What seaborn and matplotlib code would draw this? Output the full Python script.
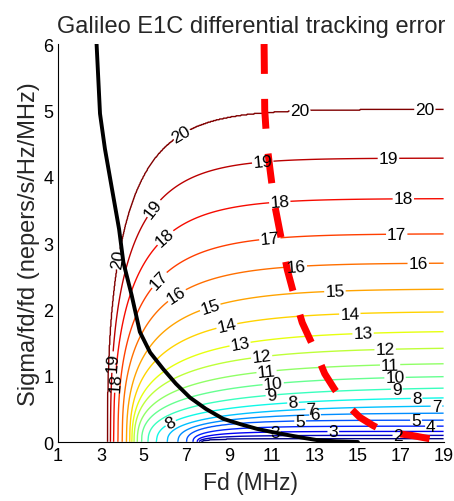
import numpy as np
import pandas as pd
import matplotlib
matplotlib.use("Agg")
import matplotlib.pyplot as plt
import seaborn as sns

# ---- data ----
levels = [1, 2, 3, 4, 5, 6, 7, 8, 9, 10, 11, 12, 13, 14, 15, 16, 17, 18, 19, 20]
# height each contour level levels off at (right side, Fd -> 19 MHz)
level_height = [0.05, 0.10, 0.16, 0.24, 0.33, 0.44, 0.56, 0.69, 0.84, 1.01,
                1.20, 1.43, 1.68, 1.97, 2.31, 2.70, 3.14, 3.67, 4.28, 5.02]
# Fd where each contour level meets the bottom of the plot
level_foot = [7.7, 7.6, 7.5, 7.3, 7.0, 6.6, 6.1, 5.6, 5.2, 4.9,
              4.7, 4.55, 4.45, 4.35, 4.2, 4.0, 3.8, 3.6, 3.45, 3.3]
# Fd range over which each level bends from vertical to flat
level_knee = [1.5, 1.6, 1.8, 2.0, 2.2, 3.5, 5.0, 5.5, 5.5, 5.0,
              4.5, 4.1, 3.9, 3.3, 3.0, 2.7, 2.5, 2.3, 2.1, 2.0]

# where the contour labels sit (per level)
label_spots = {
    20: [(6.7, 4.67), (12.3, 4.99), (18.13, 4.94), (3.66, 2.76)],
    19: [(5.3, 3.56), (10.58, 4.17), (16.42, 4.27), (3.66, 1.2)],
    18: [(5.92, 3.11), (11.36, 3.59), (17.12, 3.64), (3.9, 0.9)],
    17: [(5.68, 2.46), (10.9, 3.01), (16.81, 3.11)],
    16: [(6.53, 2.21), (12.14, 2.58), (17.82, 2.68)],
    15: [(8.1, 2.03), (13.93, 2.23)],
    14: [(8.87, 1.75), (14.63, 1.88)],
    13: [(9.5, 1.48), (15.25, 1.65)],
    12: [(10.51, 1.28), (16.27, 1.40)],
    11: [(10.74, 1.05), (16.5, 1.18)],
    10: [(11.05, 0.87), (16.73, 1.0)],
    9: [(10.97, 0.67), (16.8, 0.80)],
    8: [(6.4, 0.2), (11.98, 0.55), (17.74, 0.67)],
    7: [(12.83, 0.47), (18.67, 0.57)],
    6: [(13.0, 0.32)],
    5: [(12.3, 0.2), (17.7, 0.37)],
    4: [(18.4, 0.25)],
    3: [(11.13, 0.05), (13.84, 0.08)],
    2: [(16.9, 0.06)],
}

black_fd = [2.80, 2.96, 3.19, 3.50, 3.85, 4.05, 4.44, 4.82, 5.30, 5.91, 6.50,
            7.16, 7.90, 8.71, 9.50, 10.27, 11.0, 11.82, 12.5, 13.07, 14.0, 15.0]
black_sig = [6.00, 4.95, 4.42, 3.85, 3.21, 2.71, 2.21, 1.66, 1.35, 1.10, 0.88,
             0.67, 0.50, 0.35, 0.27, 0.20, 0.15, 0.10, 0.06, 0.03, 0.01, 0.0]

red_fd = [10.62, 10.65, 10.75, 10.90, 11.10, 11.40, 11.70, 12.05, 12.40, 13.00,
          13.45, 13.90, 14.30, 15.10, 15.70, 16.30, 17.00, 17.50, 18.50, 19.0]
red_sig = [6.00, 5.00, 4.50, 4.10, 3.60, 3.10, 2.60, 2.18, 1.80, 1.38,
           1.03, 0.80, 0.62, 0.37, 0.25, 0.15, 0.12, 0.10, 0.04, 0.02]

title = "Galileo E1C differential tracking error"
xlabel = "Fd (MHz)"
ylabel = "Sigma/fd/fd (nepers/s/Hz/MHz)"
xticks = [1, 3, 5, 7, 9, 11, 13, 15, 17, 19]
yticks = [0, 1, 2, 3, 4, 5, 6]

# ---- build the error surface from the level table ----
xg = np.linspace(1, 19, 700)
yg = np.linspace(0.003, 6, 500)
lam = np.linspace(levels[0], levels[-1], 400)
H = np.exp(np.interp(lam, levels, np.log(level_height)))
X0 = np.interp(lam, levels, level_foot)
D = np.interp(lam, levels, level_knee)
u = np.clip((xg[None, :] - X0[:, None]) / D[:, None], 0, None)
ys = H[:, None] * (1 - np.exp(-u)) ** 0.4 + lam[:, None] * 1e-9
Z = np.empty((yg.size, xg.size))
for j in range(xg.size):
    Z[:, j] = np.interp(yg, ys[:, j], lam, left=0.5, right=20.5)

# ---- plot ----
sns.set_style("white")
plt.rcParams["font.family"] = ["Liberation Sans", "DejaVu Sans"]
fig = plt.figure(figsize=(4.54, 5.02), dpi=100)
ax = fig.add_axes([0.1278, 0.1175, 0.8493, 0.7928])
ax.set_xlim(1, 19)
ax.set_ylim(0, 6)

cs = ax.contour(xg, yg, Z, levels=levels, cmap="jet", vmin=1, vmax=20,
                linewidths=1.0)

# snap each label spot onto its own level's contour line
paths = cs.get_paths()
snapped = []
for lev, spots in label_spots.items():
    verts = paths[levels.index(lev)].vertices
    if len(verts) == 0:
        continue
    vpix = ax.transData.transform(verts)
    for sx, sy in spots:
        p = ax.transData.transform((sx, sy))
        k = np.argmin(((vpix - p) ** 2).sum(axis=1))
        snapped.append(tuple(verts[k]))
ax.clabel(cs, manual=snapped, fmt="%d", fontsize=12.5,
          inline=True, inline_spacing=1, colors="black")

dfb = pd.DataFrame({"Fd": black_fd, "Sigma": black_sig})
dfr = pd.DataFrame({"Fd": red_fd, "Sigma": red_sig})
sns.lineplot(data=dfb, x="Fd", y="Sigma", sort=False, color="black",
             linewidth=2.8, ax=ax)
sns.lineplot(data=dfr, x="Fd", y="Sigma", sort=False, color="red",
             linewidth=5, ax=ax)
red_line = ax.lines[-1]
red_line.set_dashes((4.3, 3.6))
red_line.set_dash_capstyle("butt")

ax.set_xlim(1, 19)
ax.set_ylim(0, 6)
ax.set_xticks(xticks)
ax.set_yticks(yticks)
ax.tick_params(direction="in", length=4, width=0.8, labelsize=13, colors="black")
for s in ["top", "right"]:
    ax.spines[s].set_visible(False)
for s in ["left", "bottom"]:
    ax.spines[s].set_color("black")
    ax.spines[s].set_linewidth(0.8)
ax.set_xlabel(xlabel, fontsize=16.5, labelpad=5)
ax.set_ylabel(ylabel, fontsize=17, labelpad=2)
ax.set_title(title, fontsize=17, pad=9)

fig.savefig("out.png", dpi=100)
